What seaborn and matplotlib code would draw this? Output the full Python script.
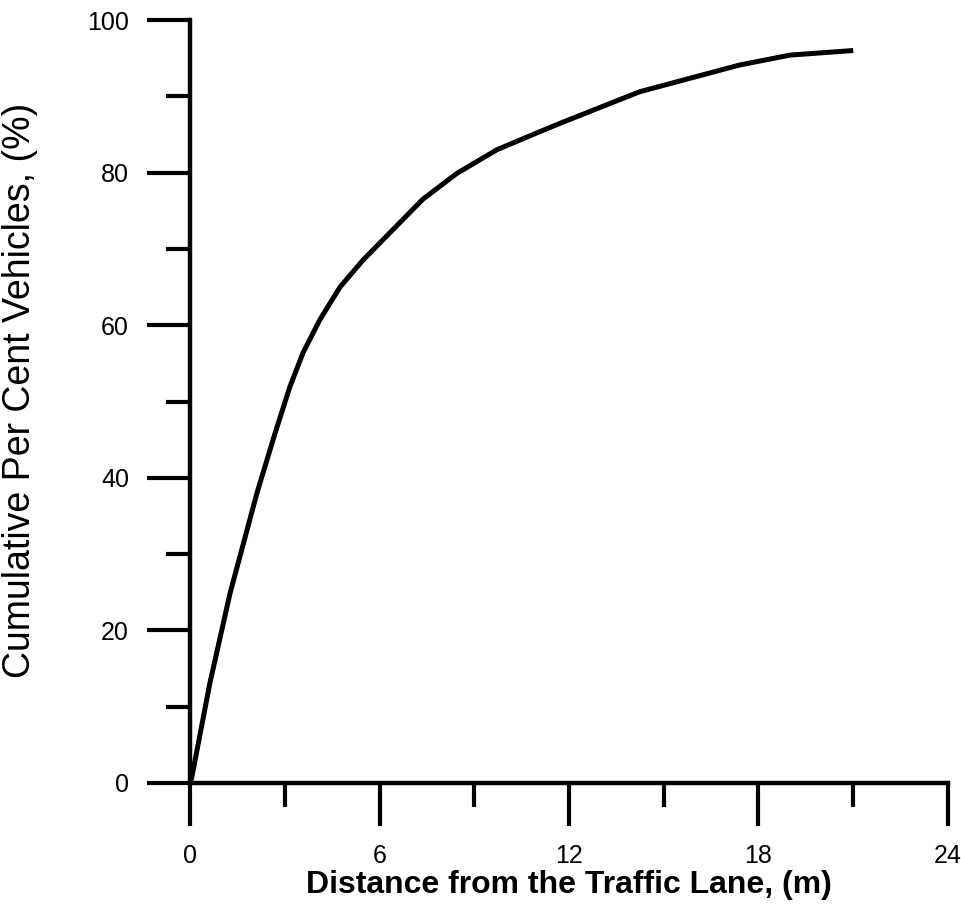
import matplotlib
matplotlib.use("Agg")
import matplotlib.pyplot as plt
import seaborn as sns
import pandas as pd
from matplotlib.ticker import MultipleLocator

distance_m = [0.0, 0.06, 0.63, 1.27, 2.12, 2.69, 3.16, 3.58, 4.11, 4.75, 5.47, 6.42,
              7.37, 8.45, 9.72, 10.98, 11.80, 14.24, 17.4, 19.0, 21.0]
cum_pct = [0.0, 0.8, 13.1, 24.9, 38.0, 45.8, 51.9, 56.4, 60.7, 65.0, 68.5, 72.5,
           76.5, 79.9, 83.0, 85.2, 86.6, 90.6, 94.1, 95.4, 96.0]

x_major = [0, 6, 12, 18, 24]
y_major = [0, 20, 40, 60, 80, 100]

sns.set_theme(style="ticks")
plt.rcParams['font.family'] = ['Liberation Sans', 'DejaVu Sans']

df = pd.DataFrame({"Distance": distance_m, "Cumulative": cum_pct})

fig = plt.figure(figsize=(9.62, 9.08), dpi=100)
ax = fig.add_axes([190/962, 1-783/908, (948-190)/962, (783-20)/908])

sns.lineplot(data=df, x="Distance", y="Cumulative", ax=ax, color="black",
             linewidth=3.6, sort=False, solid_capstyle="butt", solid_joinstyle="round")

ax.set_xlim(0, 24)
ax.set_ylim(0, 100)
ax.set_xticks(x_major)
ax.set_xticklabels([str(v) for v in x_major])
ax.set_yticks(y_major)
ax.set_yticklabels([str(v) for v in y_major])
ax.xaxis.set_minor_locator(MultipleLocator(3))
ax.yaxis.set_minor_locator(MultipleLocator(10))

for side in ["top", "right"]:
    ax.spines[side].set_visible(False)
for side in ["left", "bottom"]:
    ax.spines[side].set_linewidth(3.2)
    ax.spines[side].set_color("black")

ax.tick_params(axis="both", which="major", direction="out", length=31, width=3.0,
               color="black", labelsize=18, labelcolor="black", pad=13)
ax.tick_params(axis="both", which="minor", direction="out", length=17, width=3.0,
               color="black")
ax.grid(False)

ax.set_xlabel("Distance from the Traffic Lane, (m)", fontsize=23, fontweight="bold",
              color="black", labelpad=1)
ax.set_ylabel("Cumulative Per Cent Vehicles, (%)", fontsize=27, color="black")
ax.yaxis.set_label_coords(-0.200, 0.514)

fig.savefig("out.png", dpi=100, facecolor="white")
